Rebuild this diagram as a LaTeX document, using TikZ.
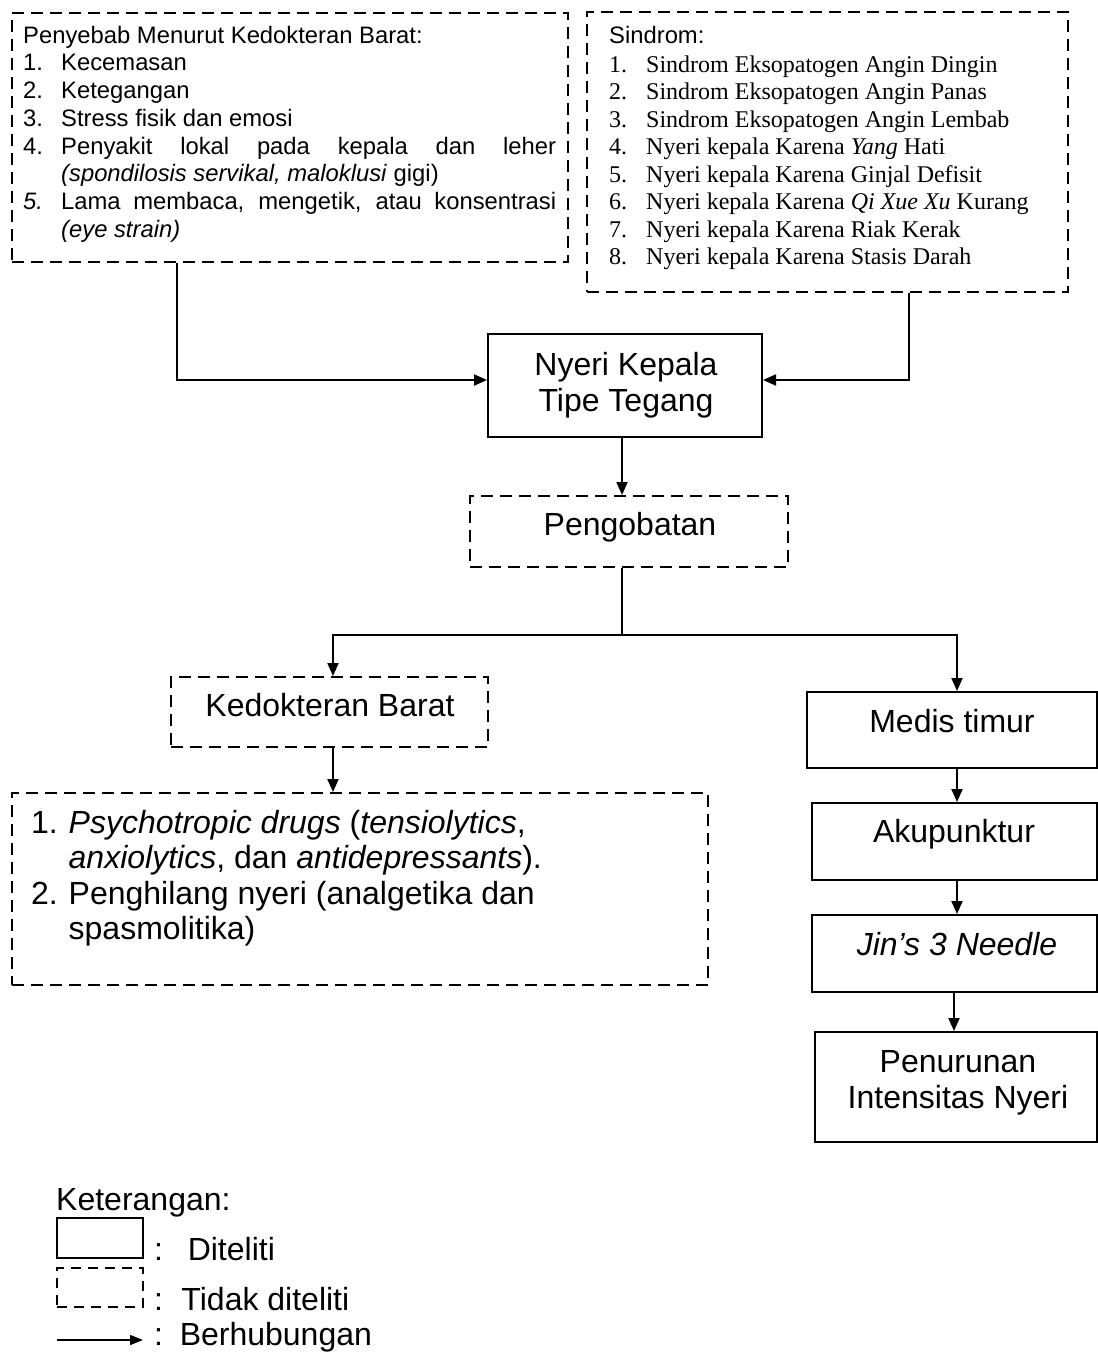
\documentclass[tikz,border=0pt]{standalone}
\usepackage{fontspec}
\setmainfont{Liberation Sans}
\newfontfamily\tnr{Liberation Serif}
\usetikzlibrary{arrows.meta}
\tikzset{
  solidbox/.style={draw, line width=2pt, inner sep=0pt},
  dashbox/.style={draw, line width=2pt, dash pattern=on 12pt off 7pt, inner sep=0pt},
  conn/.style={line width=2pt, -{Triangle[length=13pt,width=11pt]}},
  plainline/.style={line width=1.3pt},
  big/.style={inner sep=0pt, font=\fontsize{32}{36.5}\selectfont},
  small/.style={inner sep=0pt, font=\fontsize{23.8}{27.7}\selectfont},
}
\begin{document}
\begin{tikzpicture}[x=1pt,y=-1pt]
\fill[white] (0,0) rectangle (1098,1353);
\useasboundingbox (0,0) rectangle (1098,1353);

% ---------- boxes ----------
\node[dashbox, minimum width=556pt, minimum height=249pt] (tl) at (290,137.5) {};
\node[dashbox, minimum width=481pt, minimum height=280pt] (tr) at (827.5,152) {};
\node[solidbox, minimum width=274pt, minimum height=103pt] (nyeri) at (625,385.5) {};
\node[dashbox, minimum width=318pt, minimum height=71pt] (peng) at (629,531.5) {};
\node[dashbox, minimum width=317pt, minimum height=70pt] (kb) at (329.5,712) {};
\node[dashbox, minimum width=696pt, minimum height=192pt] (bigbox) at (360,889) {};
\node[solidbox, minimum width=290pt, minimum height=76pt] (medis) at (952,730) {};
\node[solidbox, minimum width=285pt, minimum height=77pt] (aku) at (954.5,841.5) {};
\node[solidbox, minimum width=285pt, minimum height=77pt] (jin) at (954.5,953.5) {};
\node[solidbox, minimum width=282pt, minimum height=110pt] (pen) at (956,1087) {};

% ---------- texts ----------
\node[small, anchor=north west, align=left] (tltext) at (23,23) {%
\rule{0pt}{20pt}Penyebab Menurut Kedokteran Barat:\\
\makebox[38pt][l]{1.}Kecemasan\\
\makebox[38pt][l]{2.}Ketegangan\\
\makebox[38pt][l]{3.}Stress fisik dan emosi\\
\makebox[38pt][l]{4.}\makebox[495pt][s]{Penyakit lokal pada kepala dan leher}\\
\hspace*{38pt}\textit{(spondilosis servikal, maloklusi} gigi)\\
\makebox[38pt][l]{\textit{5.}}\makebox[495pt][s]{Lama membaca, mengetik, atau konsentrasi}\\
\hspace*{38pt}\textit{(eye strain)}};

\node[inner sep=0pt, anchor=north west, align=left,
      font=\tnr\fontsize{24}{27.5}\selectfont] (trtext) at (609,23) {%
\rule{0pt}{20pt}{\rmfamily\fontsize{23.8}{27.5}\selectfont Sindrom:}\\[1.5pt]
\makebox[37pt][l]{1.}Sindrom Eksopatogen Angin Dingin\\
\makebox[37pt][l]{2.}Sindrom Eksopatogen Angin Panas\\
\makebox[37pt][l]{3.}Sindrom Eksopatogen Angin Lembab\\
\makebox[37pt][l]{4.}Nyeri kepala Karena \textit{Yang} Hati\\
\makebox[37pt][l]{5.}Nyeri kepala Karena Ginjal Defisit\\
\makebox[37pt][l]{6.}Nyeri kepala Karena \textit{Qi Xue Xu} Kurang\\
\makebox[37pt][l]{7.}Nyeri kepala Karena Riak Kerak\\
\makebox[37pt][l]{8.}Nyeri kepala Karena Stasis Darah};

\node[big, anchor=north, align=center] (tnyeri) at (626,349) {\rule{0pt}{26pt}Nyeri Kepala\\Tipe Tegang};
\node[big, anchor=base] (tpeng) at (630,535) {Pengobatan};
\node[big, anchor=base] (tkb) at (330,716) {Kedokteran Barat};

\node[anchor=north west, align=left, inner sep=0pt,
      font=\fontsize{32}{35.5}\selectfont] (tbig) at (31,807) {%
\rule{0pt}{26pt}\makebox[37.5pt][l]{1.}\textit{Psychotropic drugs} (\textit{tensiolytics},\\
\hspace*{37.5pt}\textit{anxiolytics}, dan \textit{antidepressants}).\\
\makebox[37.5pt][l]{2.}Penghilang nyeri (analgetika dan\\
\hspace*{37.5pt}spasmolitika)};

\node[big, anchor=base] (tmedis) at (952,732) {Medis timur};
\node[big, anchor=base] (taku) at (954,842) {Akupunktur};
\node[big, anchor=base] (tjin) at (957,955) {\textit{Jin’s 3 Needle}};
\node[big, anchor=north, align=center] (tpen) at (958,1046) {\rule{0pt}{26pt}Penurunan\\Intensitas Nyeri};

% ---------- connectors ----------
\draw[conn] ([xshift=166pt]tl.south west) |- ([yshift=5.5pt]nyeri.west);
\draw[conn] ([xshift=323pt]tr.south west) |- ([yshift=5.5pt]nyeri.east);
\draw[conn] ([xshift=-3pt]nyeri.south) -- ([xshift=-3pt]nyeri.south |- peng.north);
\coordinate (split) at (622,635);
\draw[plainline] (split |- peng.south) -- (split);
\draw[conn] (split) -| ([xshift=3.5pt]kb.north);
\draw[conn] (split) -| ([xshift=5pt]medis.north);
\draw[conn] ([xshift=3.5pt]kb.south) -- ([xshift=3.5pt]kb.south |- bigbox.north);
\draw[conn] ([xshift=5pt]medis.south) -- ([xshift=5pt]medis.south |- aku.north);
\draw[conn] ([xshift=2.5pt]aku.south) -- ([xshift=2.5pt]aku.south |- jin.north);
\draw[conn] ([xshift=-0.5pt]jin.south) -- ([xshift=-0.5pt]jin.south |- pen.north);

% ---------- legend ----------
\node[big, anchor=base west] (ket) at (56,1210) {Keterangan:};
\node[draw, line width=1.5pt, minimum width=86pt, minimum height=40pt, inner sep=0pt] (leg1) at (100,1238) {};
\node[draw, line width=1.5pt, dash pattern=on 10pt off 7pt, minimum width=86pt, minimum height=39pt, inner sep=0pt] (leg2) at (100,1287.5) {};
\coordinate (la) at (57,1340);
\coordinate (lb) at (143,1340);
\draw[line width=1.5pt, -{Triangle[length=13pt,width=10pt]}] (la) -- (lb);
\node[big, anchor=base west] (d1) at (154,1260) {:\hspace*{24.7pt}Diteliti};
\node[big, anchor=base west] (d2) at (154,1310) {:\hspace*{18.4pt}Tidak diteliti};
\node[big, anchor=base west] (d3) at (154,1345) {:\hspace*{16.7pt}Berhubungan};
\end{tikzpicture}
\end{document}
